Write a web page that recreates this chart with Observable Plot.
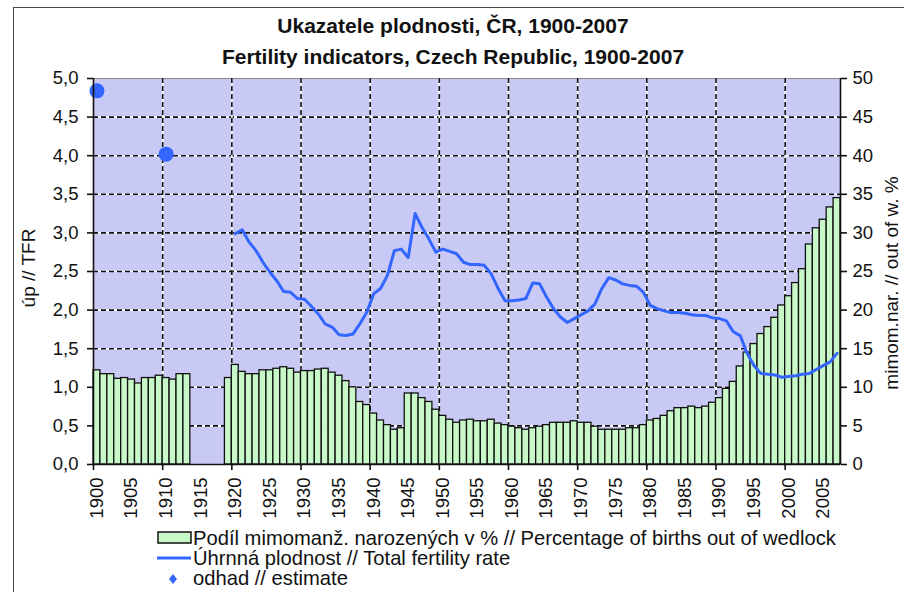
<!DOCTYPE html>
<html>
<head>
<meta charset="utf-8">
<script src="https://cdn.jsdelivr.net/npm/d3@7"></script>
<script src="https://cdn.jsdelivr.net/npm/@observablehq/plot@0.6"></script>
<style>
  html, body { margin: 0; padding: 0; background: #fff; }
  #wrap { position: relative; width: 904px; height: 592px; overflow: hidden; background: #fff;
          font-family: "Liberation Sans", Arial, sans-serif; color: #111; }
  #border { position: absolute; left: 13px; top: 7px; width: 1000px; height: 700px;
            border: 1.5px solid #444; box-sizing: border-box; }
  #chart { position: absolute; left: 0; top: 0; }
  .title { position: absolute; left: 453px; transform: translateX(-50%); white-space: nowrap;
           font-weight: bold; font-size: 21px; line-height: 1.149; }
  .rot { position: absolute; white-space: nowrap; font-size: 19px; line-height: 1.1; transform: translate(-50%, -50%) rotate(-90deg); }
  .leg { position: absolute; left: 193px; font-size: 20.2px; white-space: nowrap; line-height: 1.149; }
</style>
</head>
<body>
<div id="wrap">
  <div id="border"></div>
  <div id="chart"></div>
  <div class="title" style="top:14px">Ukazatele plodnosti, ČR, 1900-2007</div>
  <div class="title" style="top:45px">Fertility indicators, Czech Republic, 1900-2007</div>
  <div class="rot" style="left:29px; top:268px">úp // TFR</div>
  <div class="rot" style="left:892px; top:283px">mimom.nar. // out of w. %</div>
  <div id="legend"></div>
</div>
<script>
// ---- Data ----
const years = [
  1900,1901,1902,1903,1904,1905,1906,1907,1908,1909,
  1910,1911,1912,1913,1914,1915,1916,1917,1918,1919,
  1920,1921,1922,1923,1924,1925,1926,1927,1928,1929,
  1930,1931,1932,1933,1934,1935,1936,1937,1938,1939,
  1940,1941,1942,1943,1944,1945,1946,1947,1948,1949,
  1950,1951,1952,1953,1954,1955,1956,1957,1958,1959,
  1960,1961,1962,1963,1964,1965,1966,1967,1968,1969,
  1970,1971,1972,1973,1974,1975,1976,1977,1978,1979,
  1980,1981,1982,1983,1984,1985,1986,1987,1988,1989,
  1990,1991,1992,1993,1994,1995,1996,1997,1998,1999,
  2000,2001,2002,2003,2004,2005,2006,2007
];
// Percentage of births out of wedlock (right axis, %)
const outOfWedlock = [
  12.2,11.7,11.7,11.1,11.2,11.0,10.5,11.2,11.2,11.5,
  11.2,11.0,11.7,11.7,null,null,null,null,null,11.2,
  12.9,12.0,11.7,11.7,12.2,12.2,12.4,12.6,12.4,11.9,
  12.1,12.1,12.3,12.4,11.9,11.5,10.8,10.0,8.1,7.7,
  6.6,5.7,5.1,4.5,4.7,9.2,9.2,8.6,8.1,7.1,
  6.3,5.8,5.4,5.7,5.8,5.6,5.6,5.8,5.3,5.1,
  4.9,4.7,4.5,4.7,4.9,5.1,5.4,5.4,5.4,5.6,
  5.4,5.4,4.9,4.5,4.5,4.5,4.5,4.7,4.7,5.1,
  5.7,5.9,6.3,6.9,7.3,7.3,7.5,7.3,7.5,8.0,
  8.6,9.8,10.7,12.7,14.5,15.6,16.9,17.8,19.0,20.6,
  21.8,23.5,25.3,28.5,30.6,31.7,33.3,34.5
];
// Total fertility rate (left axis)
const tfr = [
  null,null,null,null,null,null,null,null,null,null,
  null,null,null,null,null,null,null,null,null,null,
  2.99,3.04,2.88,2.77,2.62,2.49,2.38,2.24,2.23,2.15,
  2.14,2.05,1.95,1.82,1.78,1.68,1.67,1.69,1.82,1.97,
  2.21,2.28,2.45,2.77,2.79,2.68,3.25,3.07,2.92,2.75,
  2.79,2.76,2.73,2.62,2.59,2.59,2.58,2.47,2.28,2.12,
  2.12,2.13,2.15,2.35,2.34,2.17,2.02,1.91,1.84,1.89,
  1.94,1.99,2.08,2.28,2.42,2.39,2.34,2.32,2.31,2.23,
  2.06,2.02,1.99,1.97,1.97,1.96,1.94,1.93,1.93,1.90,
  1.89,1.86,1.72,1.67,1.44,1.28,1.18,1.17,1.16,1.13,
  1.14,1.15,1.17,1.18,1.23,1.28,1.33,1.44
];
// Estimates of TFR
const estimateYears = [1900, 1910];
const estimateValues = [4.84, 4.02];

// Axis ticks / labels
const leftTicks = [0,0.5,1,1.5,2,2.5,3,3.5,4,4.5,5];
const gridValues = [0.5,1,1.5,2,2.5,3,3.5,4,4.5];
const decadeYears = [1910,1920,1930,1940,1950,1960,1970,1980,1990,2000];
const tickDecades = [1900,1910,1920,1930,1940,1950,1960,1970,1980,1990,2000];
const labelYears = [1900,1905,1910,1915,1920,1925,1930,1935,1940,1945,1950,1955,1960,1965,1970,1975,1980,1985,1990,1995,2000,2005];

const legendLabels = [
  "Podíl mimomanž. narozených v % // Percentage of births out of wedlock",
  "Úhrnná plodnost // Total fertility rate",
  "odhad // estimate"
];

// ---- Build tables ----
const bars = years.map((y, i) => ({year: y, pct: outOfWedlock[i]})).filter(d => d.pct != null);
const line = years.map((y, i) => ({year: y, tfr: tfr[i]})).filter(d => d.tfr != null);
const est = estimateYears.map((y, i) => ({year: y, v: estimateValues[i]}));

const BG = "#c9c9f6", BAR = "#c8f8c8", BLUE = "#3366ff";
const firstYear = years[0], lastYear = years[years.length - 1];
const FS = 18.5;

const chart = Plot.plot({
  width: 904,
  height: 592,
  marginLeft: 93,
  marginRight: 64,
  marginTop: 78,
  marginBottom: 128,
  style: {fontFamily: "Liberation Sans, Arial, sans-serif", fontSize: FS + "px", color: "#111", background: "transparent", overflow: "visible"},
  x: {domain: [firstYear - 0.5, lastYear + 0.5], axis: null},
  y: {domain: [0, 5], axis: null},
  marks: [
    Plot.frame({fill: BG, stroke: "#888", strokeWidth: 1}),
    Plot.ruleY(gridValues, {stroke: "white", strokeWidth: 1.6}),
    Plot.ruleY(gridValues, {stroke: "#111", strokeWidth: 1.6, strokeDasharray: "5,3"}),
    Plot.ruleX(decadeYears, {x: d => d - 0.5, stroke: "white", strokeWidth: 1.6}),
    Plot.ruleX(decadeYears, {x: d => d - 0.5, stroke: "#111", strokeWidth: 1.6, strokeDasharray: "5,3"}),
    Plot.rectY(bars, {x1: d => d.year - 0.5, x2: d => d.year + 0.5, y: d => d.pct / 10, fill: BAR, stroke: "#111", strokeWidth: 1.3}),
    Plot.line(line, {x: "year", y: "tfr", stroke: BLUE, strokeWidth: 3, strokeLinejoin: "round"}),
    Plot.dot(est, {x: "year", y: "v", r: 7.5, fill: BLUE, stroke: "none"}),
    // axis lines
    Plot.ruleX([firstYear - 0.5], {stroke: "#111", strokeWidth: 1.6}),
    Plot.ruleX([lastYear + 0.5], {stroke: "#111", strokeWidth: 1.6}),
    Plot.ruleY([0], {stroke: "#111", strokeWidth: 1.6}),
    // left axis
    Plot.axisY({anchor: "left", ticks: leftTicks, tickSize: 6, tickPadding: 9, strokeWidth: 1.6,
      tickFormat: d => d.toFixed(1).replace(".", ","), label: null, fontSize: FS}),
    // right axis (percent = TFR scale * 10)
    Plot.axisY({anchor: "right", ticks: leftTicks, tickSize: 6, tickPadding: 6, strokeWidth: 1.6,
      tickFormat: d => String(Math.round(d * 10)), label: null, fontSize: FS}),
    // bottom ticks at decade boundaries
    Plot.axisX({anchor: "bottom", ticks: tickDecades.map(d => d - 0.5), tickSize: 6, strokeWidth: 1.6,
      tickFormat: () => "", label: null}),
    // rotated year labels
    Plot.text(labelYears, {x: d => d, text: d => String(d), frameAnchor: "bottom", rotate: -90, textAnchor: "end",
      lineAnchor: "middle", dy: 13, fontSize: FS, fill: "#111"})
  ]
});
document.getElementById("chart").appendChild(chart);

// ---- Legend ----
const leg = document.getElementById("legend");
const ns = "http://www.w3.org/2000/svg";
const lsvg = document.createElementNS(ns, "svg");
lsvg.setAttribute("width", 904); lsvg.setAttribute("height", 592);
lsvg.style.position = "absolute"; lsvg.style.left = "0"; lsvg.style.top = "0";
const sw = document.createElementNS(ns, "rect");
sw.setAttribute("x", 158); sw.setAttribute("y", 532); sw.setAttribute("width", 33); sw.setAttribute("height", 11);
sw.setAttribute("fill", BAR); sw.setAttribute("stroke", "#111"); sw.setAttribute("stroke-width", 1.5);
lsvg.appendChild(sw);
const ln = document.createElementNS(ns, "line");
ln.setAttribute("x1", 157); ln.setAttribute("x2", 191); ln.setAttribute("y1", 558); ln.setAttribute("y2", 558);
ln.setAttribute("stroke", BLUE); ln.setAttribute("stroke-width", 3);
lsvg.appendChild(ln);
const dm = document.createElementNS(ns, "path");
dm.setAttribute("d", "M173,574 L177,579 L173,584 L169,579 Z");
dm.setAttribute("fill", BLUE);
lsvg.appendChild(dm);
leg.appendChild(lsvg);
const tops = [527, 547, 567];
legendLabels.forEach((t, i) => {
  const d = document.createElement("div");
  d.className = "leg";
  d.style.top = tops[i] + "px";
  d.textContent = t;
  leg.appendChild(d);
});
</script>
</body>
</html>
